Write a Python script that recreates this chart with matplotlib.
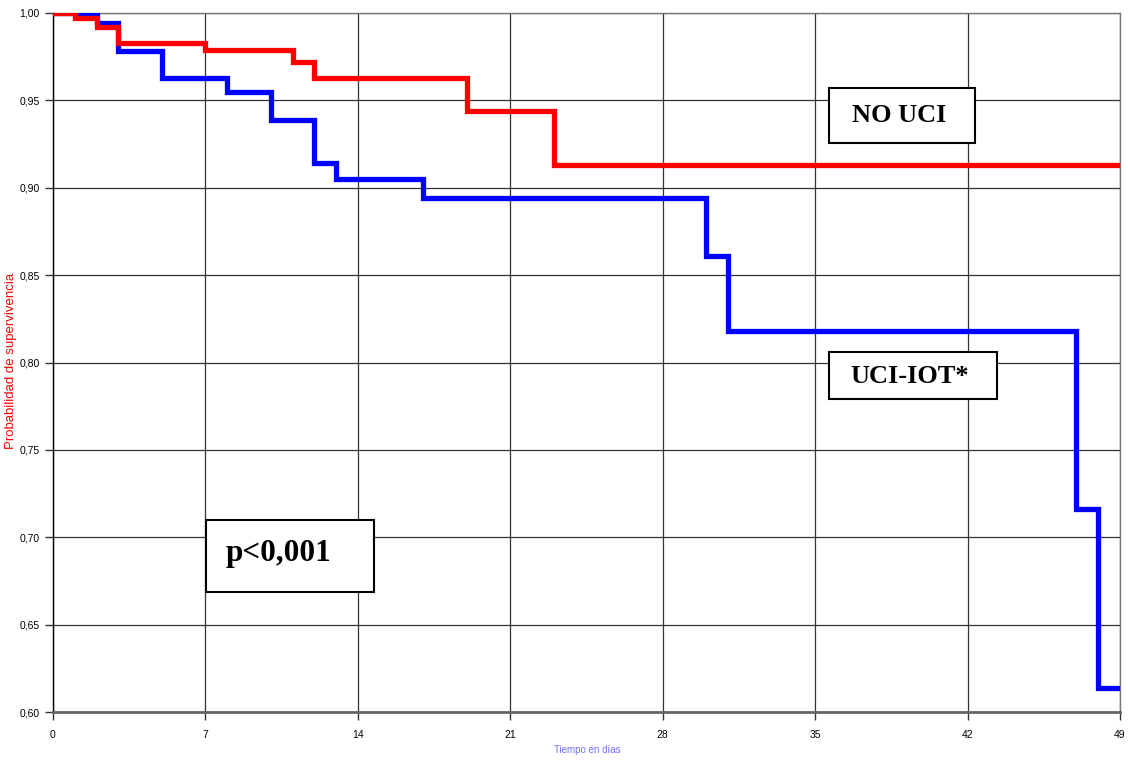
import matplotlib
matplotlib.use("Agg")
import matplotlib.pyplot as plt
from matplotlib.patches import Rectangle

# Data (Kaplan-Meier step curves)
red_days = [0, 1, 2, 3, 7, 11, 12, 19, 23, 49]
red_surv = [1.0, 0.997, 0.992, 0.983, 0.979, 0.972, 0.963, 0.944, 0.913, 0.913]
blue_days = [0, 2, 3, 5, 8, 10, 12, 13, 17, 30, 31, 47, 48, 49]
blue_surv = [1.0, 0.994, 0.978, 0.963, 0.955, 0.939, 0.914, 0.905, 0.894, 0.861, 0.818, 0.716, 0.614, 0.614]
x_ticks = [0, 7, 14, 21, 28, 35, 42, 49]
y_ticks = [0.60, 0.65, 0.70, 0.75, 0.80, 0.85, 0.90, 0.95, 1.00]
y_tick_labels = ["0,60", "0,65", "0,70", "0,75", "0,80", "0,85", "0,90", "0,95", "1,00"]

plt.rcParams['font.family'] = ['Liberation Sans', 'DejaVu Sans']

fig = plt.figure(figsize=(11.28, 7.6), dpi=100)
ax = fig.add_axes([53/1128, 1-712/760, 1067/1128, 699/760])

ax.step(blue_days, blue_surv, where='post', color='#0000ff', lw=3.8, zorder=3,
        solid_joinstyle='miter')
ax.step(red_days, red_surv, where='post', color='#ff0000', lw=3.8, zorder=4,
        solid_joinstyle='miter')

ax.set_xlim(0, 49)
ax.set_ylim(0.60, 1.00)
ax.set_xticks(x_ticks)
ax.set_xticklabels([str(t) for t in x_ticks])
ax.set_yticks(y_ticks)
ax.set_yticklabels(y_tick_labels)
ax.grid(True, color='#333333', lw=0.9, zorder=1)
ax.set_axisbelow(True)
ax.tick_params(axis='both', labelsize=7.5, color='#333333', length=6, width=1)
ax.tick_params(axis='x', pad=7)
for s in ['top', 'right']:
    ax.spines[s].set_color('#777777')
    ax.spines[s].set_linewidth(1.0)
ax.spines['bottom'].set_color('#666666')
ax.spines['bottom'].set_linewidth(2.0)
ax.spines['left'].set_color('#000000')
ax.spines['left'].set_linewidth(1.0)

fig.text(11/1128, 1-361/760, "Probabilidad de supervivencia", rotation=90, color='#ff0000',
         fontsize=9.5, ha='center', va='center')
fig.text(587/1128, 1-750/760, "Tiempo en días", color='#7070ff', fontsize=7,
         ha='center', va='center')

def box(x0, y0, x1, y1, text, tx, ty, fs):
    fig.patches.append(Rectangle((x0/1128, 1-y1/760), (x1-x0)/1128, (y1-y0)/760,
                                 transform=fig.transFigure, facecolor='white',
                                 edgecolor='black', lw=1.5, zorder=10))
    fig.text(tx/1128, 1-ty/760, text, fontsize=fs, fontweight='bold',
             family=['Liberation Serif', 'DejaVu Serif'], ha='center', va='center', zorder=11)

box(829, 88, 975, 143, "NO UCI", 899, 116, 19)
box(829, 352, 997, 399, "UCI-IOT*", 910, 377, 19)
box(206, 520, 374, 592, "p<0,001", 279, 553, 22.5)

fig.savefig("out.png", dpi=100)
